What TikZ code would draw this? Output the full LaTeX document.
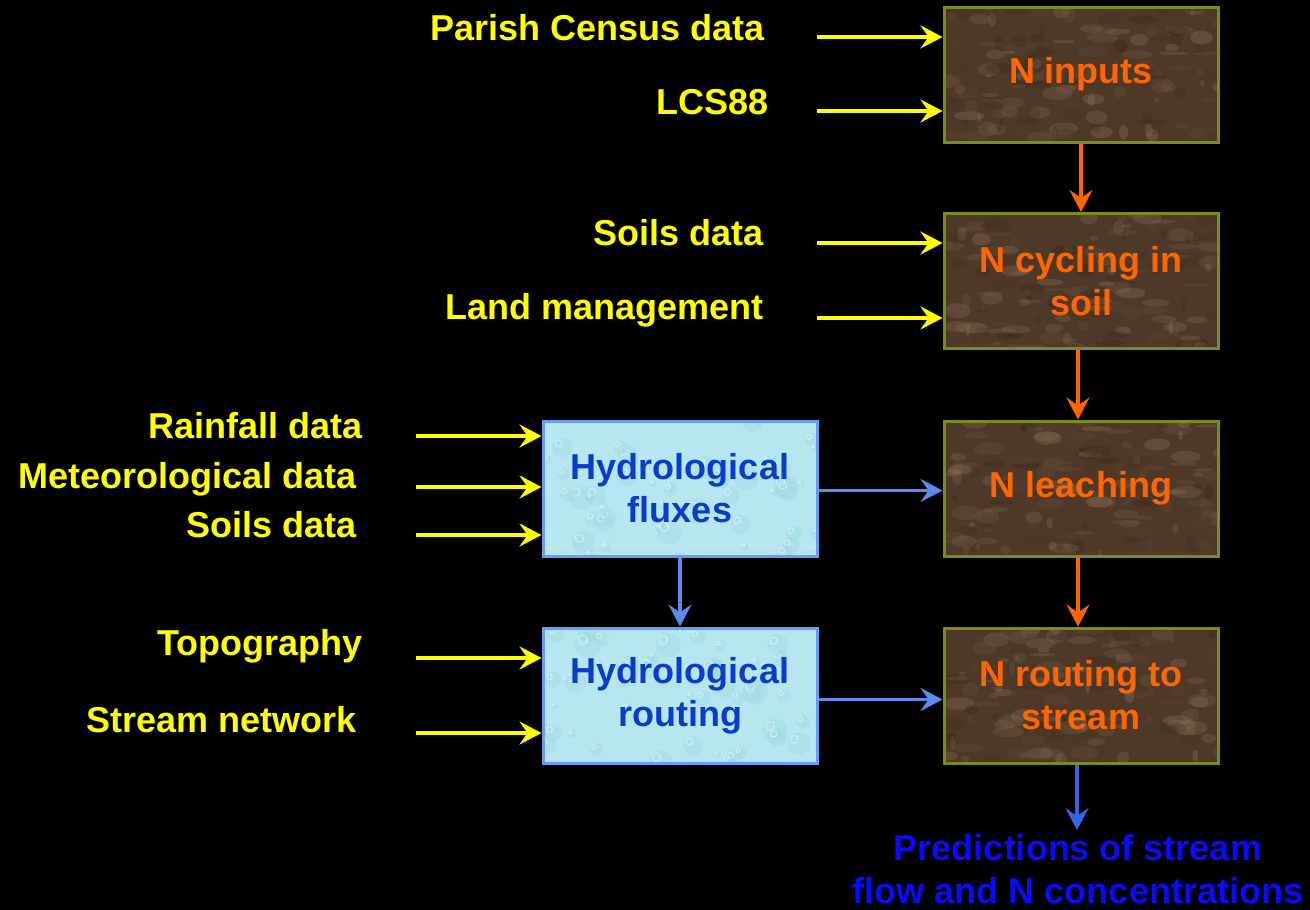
\documentclass[tikz,border=0pt]{standalone}
\usepackage{fontspec}
\setmainfont{Liberation Sans}
\usetikzlibrary{arrows.meta,calc}
\definecolor{ylw}{HTML}{FFFF00}
\definecolor{org}{HTML}{FF6600}
\definecolor{olive}{HTML}{7B8C1E}
\definecolor{soilD}{HTML}{2E1E14}
\definecolor{soilM}{HTML}{4E3828}
\definecolor{soilL}{HTML}{9C8468}
\definecolor{waterB}{HTML}{B6E6EF}
\definecolor{waterL}{HTML}{E2F6F9}
\definecolor{waterD}{HTML}{96D3DF}
\definecolor{hblue}{HTML}{6B9CF5}
\definecolor{htext}{HTML}{0A3CCC}
\definecolor{barrow}{HTML}{5A8CF0}
\definecolor{barrow2}{HTML}{3366E6}
\definecolor{predblue}{HTML}{0A0AFF}
\tikzset{
  lbl/.style={inner sep=0pt, anchor=base east, text=ylw, font=\bfseries\fontsize{36}{43}\selectfont},
  soiltex/.style={path picture={
      \coordinate (tl) at (path picture bounding box.north west);
      \foreach \k in {1,...,160}{
        \pgfmathsetmacro\px{rnd*274}\pgfmathsetmacro\py{rnd*135}
        \pgfmathsetmacro\ra{2+rnd*14}\pgfmathsetmacro\rb{1.5+rnd*6}
        \pgfmathtruncatemacro\pc{rnd*100}\pgfmathsetmacro\ang{rnd*180}
        \fill[soilL!\pc!soilD, opacity=0.28, rotate around={\ang:($(tl)+(\px,\py)$)}] ($(tl)+(\px,\py)$) ellipse [x radius=\ra, y radius=\rb];
      }}},
  watertex/.style={path picture={
      \coordinate (tl) at (path picture bounding box.north west);
      \foreach \k in {1,...,45}{
        \pgfmathsetmacro\px{rnd*274}\pgfmathsetmacro\py{rnd*135}
        \pgfmathsetmacro\ra{3+rnd*10}
        \fill[waterD, opacity=0.3] ($(tl)+(\px,\py)$) circle [radius=\ra];
        \draw[waterL, opacity=0.6, line width=1.2] ($(tl)+(\px,\py)+(-0.4*\ra,-0.4*\ra)$) circle [radius=0.35*\ra];
      }}},
  soilbox/.style={draw=olive, line width=3pt, fill=soilM, soiltex, minimum width=274, minimum height=135,
      inner sep=0pt, align=center, text=org, font=\bfseries\fontsize{36}{43}\selectfont},
  waterbox/.style={draw=hblue, line width=3pt, fill=waterB, watertex, minimum width=274, minimum height=135,
      inner sep=0pt, align=center, text=htext, font=\bfseries\fontsize{36}{43}\selectfont},
  tip/.style={-{Stealth[length=22pt, width=23pt, inset=8pt]}},
  yarr/.style={tip, draw=ylw, line width=3.8pt},
  oarr/.style={tip, draw=org, line width=4pt},
  barr/.style={tip, draw=barrow, line width=3.5pt},
  barr2/.style={tip, draw=barrow2, line width=3.5pt},
}
\begin{document}
\pgfmathsetseed{4242}
\begin{tikzpicture}[x=1pt, y=-1pt]
\fill[black] (0,0) rectangle (1310,910);
\useasboundingbox (0,0) rectangle (1310,910);

% boxes
\node[soilbox] (nin) at (1081,74.5) {N inputs};
\node[soilbox] (ncy) at (1081,281) {N cycling in\\soil};
\node[soilbox] (nle) at (1081,488.5) {N leaching};
\node[soilbox] (nrt) at (1081,695.5) {N routing to\\stream};
\node[waterbox] (hfx) at (680,488.5) {Hydrological\\fluxes};
\node[waterbox] (hrt) at (680,695.5) {Hydrological\\routing};

% labels
\node[lbl] (l1) at (765,40) {Parish Census data};
\node[lbl] (l2) at (769,114) {LCS88};
\node[lbl] (l3) at (764,245) {Soils data};
\node[lbl] (l4) at (764,319) {Land management};
\node[lbl] (l5) at (363,438) {Rainfall data};
\node[lbl] (l6) at (357,488) {Meteorological data};
\node[lbl] (l7) at (357,537) {Soils data};
\node[lbl] (l8) at (363,655) {Topography};
\node[lbl] (l9) at (357,732) {Stream network};

\node[inner sep=4pt, align=center, text=predblue, font=\bfseries\fontsize{36}{43}\selectfont] (pred) at (1078,869)
  {Predictions of stream\\flow and N concentrations};

% arrow start points
\coordinate (s1) at (817,37);
\coordinate (s2) at (817,111);
\coordinate (s3) at (817,243);
\coordinate (s4) at (817,318);
\coordinate (s5) at (416,436);
\coordinate (s6) at (416,487);
\coordinate (s7) at (416,535);
\coordinate (s8) at (416,658);
\coordinate (s9) at (416,733);

\draw[yarr] (s1) -- (s1 -| nin.west);
\draw[yarr] (s2) -- (s2 -| nin.west);
\draw[yarr] (s3) -- (s3 -| ncy.west);
\draw[yarr] (s4) -- (s4 -| ncy.west);
\draw[yarr] (s5) -- (s5 -| hfx.west);
\draw[yarr] (s6) -- (s6 -| hfx.west);
\draw[yarr] (s7) -- (s7 -| hfx.west);
\draw[yarr] (s8) -- (s8 -| hrt.west);
\draw[yarr] (s9) -- (s9 -| hrt.west);

\draw[oarr] (nin.south) -- (ncy.north);
\draw[oarr] ([xshift=-3]ncy.south) -- ([xshift=-3]nle.north);
\draw[oarr] ([xshift=-3]nle.south) -- ([xshift=-3]nrt.north);

\draw[barr] ([yshift=-2]hfx.east) -- ([yshift=-2]nle.west);
\draw[barr] ([yshift=-4]hrt.east) -- ([yshift=-4]nrt.west);
\draw[barr] (hfx.south) -- (hrt.north);
\draw[barr2] ([xshift=-4]nrt.south) -- ([xshift=-4]nrt.south |- pred.north);
\end{tikzpicture}
\end{document}
